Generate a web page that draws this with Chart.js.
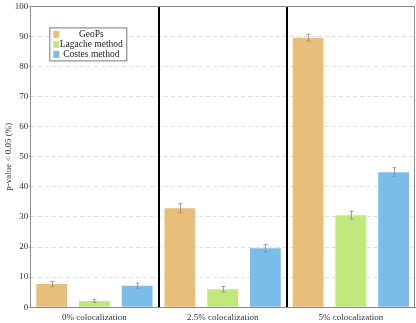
<!DOCTYPE html>
<html>
<head>
<meta charset="utf-8">
<script src="https://cdn.jsdelivr.net/npm/chart.js@4"></script>
<style>
  body { margin: 0; background: #fff; }
</style>
</head>
<body>
<canvas id="myChart" width="416" height="323"></canvas>
<script>
const labels = ['0% colocalization', '2.5% colocalization', '5% colocalization'];
const seriesNames = ['GeoPs', 'Lagache method', 'Costes method'];
const geops = [7.7, 32.9, 89.6];
const lagache = [2.1, 6.0, 30.6];
const costes = [7.1, 19.6, 44.9];
const geopsErr = [0.9, 1.5, 1.1];
const lagacheErr = [0.5, 0.9, 1.3];
const costesErr = [0.9, 1.2, 1.5];
const yTicks = [0, 10, 20, 30, 40, 50, 60, 70, 80, 90, 100];

const colors = ['rgba(232, 190, 123, 1)', 'rgba(193, 232, 122, 1)', 'rgba(123, 189, 233, 1)'];
const edge = ['rgba(214, 166, 95, 1)', 'rgba(160, 205, 90, 1)', 'rgba(95, 165, 215, 1)'];
const errors = [geopsErr, lagacheErr, costesErr];
const serif = "'Liberation Serif', 'DejaVu Serif', serif";

// barras de erro + moldura + legenda dentro do grafico
const extras = {
    id: 'extras',
    afterDatasetsDraw(chart) {
        const c = chart.ctx;
        const y = chart.scales.y;
        c.save();
        c.strokeStyle = 'rgba(140,140,140,0.85)';
        c.lineWidth = 1;
        chart.data.datasets.forEach((ds, i) => {
            chart.getDatasetMeta(i).data.forEach((bar, j) => {
                const v = ds.data[j], e = errors[i][j];
                const x = Math.round(bar.x) + 0.5;
                const y1 = y.getPixelForValue(v + e), y2 = y.getPixelForValue(v - e);
                c.beginPath();
                c.moveTo(x, y1); c.lineTo(x, y2);
                c.moveTo(x - 2, y1); c.lineTo(x + 2, y1);
                c.moveTo(x - 2, y2); c.lineTo(x + 2, y2);
                c.stroke();
            });
        });
        c.restore();
    },
    afterDraw(chart) {
        const c = chart.ctx;
        const a = chart.chartArea;
        c.save();
        c.strokeStyle = '#8a8a8a';
        c.lineWidth = 1;
        c.strokeRect(Math.round(a.left) + 0.5, Math.round(a.top) + 0.5, Math.round(a.right - a.left) - 1, Math.round(a.bottom - a.top));

        const lx = a.left + 19, ly = a.top + 21, lw = 77, lh = 33;
        c.fillStyle = '#fff';
        c.fillRect(lx, ly, lw, lh);
        c.strokeStyle = '#777';
        c.strokeRect(lx + 0.5, ly + 0.5, lw, lh);
        c.font = '9.5px ' + serif;
        c.textAlign = 'center';
        c.textBaseline = 'middle';
        seriesNames.forEach((name, i) => {
            const ry = ly + 6.5 + i * 10;
            c.fillStyle = colors[i];
            c.fillRect(lx + 4, ry - 3, 6, 7);
            c.fillStyle = '#222';
            c.fillText(name, lx + 42, ry + 0.5);
        });
        c.restore();
    }
};

const ctx = document.getElementById('myChart').getContext('2d');
const myChart = new Chart(ctx, {
    type: 'bar',
    data: {
        labels: labels,
        datasets: [geops, lagache, costes].map((d, i) => ({
            label: seriesNames[i],
            data: d,
            backgroundColor: colors[i],
            borderColor: edge[i],
            borderWidth: { bottom: 1, top: 0, left: 0, right: 0 },
            barPercentage: 0.72,
            categoryPercentage: 1.0
        }))
    },
    options: {
        responsive: false,
        devicePixelRatio: 1,
        animation: false,
        layout: { padding: { top: -5, right: 1, left: 0, bottom: -5 } },
        scales: {
            y: {
                min: 0,
                max: 100,
                afterBuildTicks: (s) => { s.ticks = yTicks.map(v => ({ value: v })); },
                ticks: { color: '#333', font: { family: serif, size: 9 }, padding: 1 },
                grid: {
                    color: (c) => (c.index === 0 || c.index === yTicks.length - 1) ? 'rgba(0,0,0,0)' : '#dddddd',
                    tickLength: 1,
                    tickColor: '#888'
                },
                border: { display: true, color: '#8a8a8a', dash: [4, 3] },
                title: {
                    display: true,
                    text: 'p-value < 0.05 (%)',
                    color: '#333',
                    font: { family: serif, size: 9 },
                    padding: { top: 3, bottom: 0 }
                }
            },
            x: {
                ticks: { color: '#333', font: { family: serif, size: 9 }, padding: 5 },
                grid: {
                    offset: true,
                    color: (c) => (c.index === 1 || c.index === 2) ? '#000' : 'rgba(0,0,0,0)',
                    lineWidth: 2,
                    drawTicks: false
                },
                border: { display: true, color: '#8a8a8a' }
            }
        },
        plugins: {
            legend: { display: false },
            tooltip: { enabled: false }
        }
    },
    plugins: [extras]
});
</script>
</body>
</html>
